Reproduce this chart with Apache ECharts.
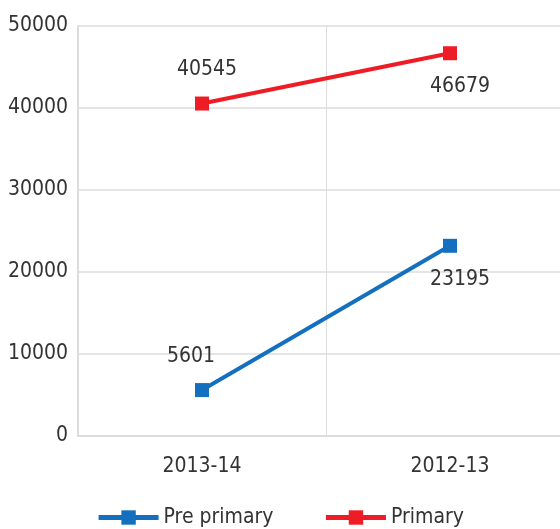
<!DOCTYPE html>
<html>
<head>
<meta charset="utf-8">
<script src="https://cdn.jsdelivr.net/npm/echarts@6/dist/echarts.min.js"></script>
<style>
  html, body { margin: 0; padding: 0; background: #fff; }
  #chart { width: 560px; height: 529px; }
</style>
</head>
<body>
<div id="chart"></div>
<script>
// data
const categories = ["2013-14", "2012-13"];
const prePrimary = [5601, 23195];
const primary = [40545, 46679];
const yTicks = [0, 10000, 20000, 30000, 40000, 50000];

const fontFamily = "'Liberation Sans Narrow', 'DejaVu Sans Condensed', Roboto, sans-serif";

// first point label above, second below
function withLabels(values, offsets) {
  return values.map(function (v, i) {
    return {
      value: v,
      label: {
        position: i === 0 ? "top" : "bottom",
        offset: offsets[i],
        distance: 16
      }
    };
  });
}

const chart = echarts.init(document.getElementById("chart"));

chart.setOption({
  animation: false,
  textStyle: { fontFamily: fontFamily },
  grid: { left: 78, width: 496, top: 26, bottom: 93, outerBoundsMode: "none" },
  legend: {
    bottom: -4,
    left: "center",
    itemWidth: 60,
    itemHeight: 18,
    itemGap: 50,
    lineStyle: { width: 5 },
    textStyle: { fontSize: 21, color: "#333", fontFamily: fontFamily },
    data: ["Pre primary", "Primary"]
  },
  xAxis: {
    type: "category",
    data: categories,
    axisTick: { show: false },
    axisLine: { lineStyle: { color: "#dcdcdc", width: 2 } },
    axisLabel: { fontSize: 21, color: "#333", margin: 20 },
    splitLine: { show: true, lineStyle: { color: "#dcdcdc", width: 1 } }
  },
  yAxis: {
    type: "value",
    min: yTicks[0],
    max: yTicks[yTicks.length - 1],
    interval: 10000,
    axisLine: { show: true, lineStyle: { color: "#dcdcdc", width: 2 } },
    axisTick: { show: false },
    axisLabel: {
      fontSize: 21,
      color: "#333",
      margin: 10,
      formatter: function (v) { return String(v); }
    },
    splitLine: { lineStyle: { color: "#dcdcdc", width: 1.5 } }
  },
  series: [
    {
      name: "Pre primary",
      type: "line",
      data: withLabels(prePrimary, [[-11, 0], [10, 0]]),
      color: "#1470be",
      symbol: "rect",
      symbolSize: 14,
      lineStyle: { width: 4 },
      label: { show: true, fontSize: 21, color: "#333" }
    },
    {
      name: "Primary",
      type: "line",
      data: withLabels(primary, [[5, 0], [10, 0]]),
      color: "#ee1c25",
      symbol: "rect",
      symbolSize: 14,
      lineStyle: { width: 4 },
      label: { show: true, fontSize: 21, color: "#333" }
    }
  ]
});
</script>
</body>
</html>
